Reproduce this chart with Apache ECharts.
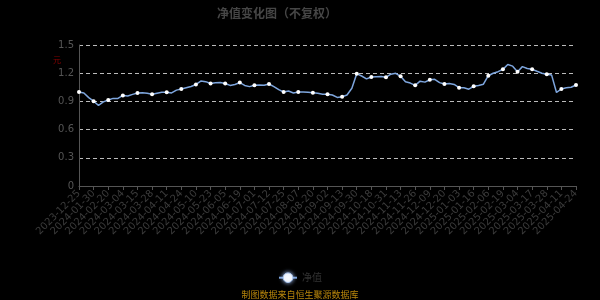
<!DOCTYPE html>
<html>
<head>
<meta charset="utf-8">
<script src="https://cdn.jsdelivr.net/npm/echarts@6/dist/echarts.min.js"></script>
<style>
html,body{margin:0;padding:0;background:#000;}
#main{width:600px;height:300px;}
</style>
</head>
<body>
<div id="main"></div>
<script>
var titleText = '净值变化图（不复权）';
var seriesName = '净值';
var unitName = '元';
var sourceText = '制图数据来自恒生聚源数据库';

var dates = [
'2023-12-25','2024-01-05','2024-01-18',
'2024-01-30','2024-02-05','2024-02-08',
'2024-02-20','2024-02-23','2024-02-28',
'2024-03-04','2024-03-07','2024-03-12',
'2024-03-15','2024-03-20','2024-03-25',
'2024-03-28','2024-04-02','2024-04-08',
'2024-04-11','2024-04-16','2024-04-19',
'2024-04-24','2024-04-29','2024-05-07',
'2024-05-10','2024-05-15','2024-05-20',
'2024-05-23','2024-05-28','2024-05-31',
'2024-06-05','2024-06-11','2024-06-14',
'2024-06-19','2024-06-24','2024-06-27',
'2024-07-01','2024-07-04','2024-07-09',
'2024-07-12','2024-07-17','2024-07-22',
'2024-07-25','2024-07-30','2024-08-02',
'2024-08-07','2024-08-12','2024-08-15',
'2024-08-20','2024-08-23','2024-08-28',
'2024-09-02','2024-09-05','2024-09-10',
'2024-09-13','2024-09-19','2024-09-25',
'2024-09-30','2024-10-10','2024-10-15',
'2024-10-18','2024-10-23','2024-10-28',
'2024-10-31','2024-11-05','2024-11-08',
'2024-11-13','2024-11-18','2024-11-21',
'2024-11-26','2024-11-29','2024-12-04',
'2024-12-09','2024-12-12','2024-12-17',
'2024-12-20','2024-12-25','2024-12-30',
'2025-01-03','2025-01-08','2025-01-13',
'2025-01-16','2025-01-21','2025-01-24',
'2025-02-06','2025-02-11','2025-02-14',
'2025-02-19','2025-02-24','2025-02-27',
'2025-03-04','2025-03-07','2025-03-12',
'2025-03-17','2025-03-20','2025-03-25',
'2025-03-28','2025-04-02','2025-04-08',
'2025-04-11','2025-04-16','2025-04-21',
'2025-04-24'
];

var navValues = [
1.000,0.990,0.940,
0.902,0.858,0.895,
0.915,0.932,0.932,
0.963,0.957,0.975,
0.990,0.993,0.986,
0.975,0.986,0.997,
0.997,0.990,1.020,
1.032,1.045,1.058,
1.080,1.116,1.110,
1.090,1.098,1.100,
1.090,1.070,1.080,
1.100,1.070,1.057,
1.071,1.075,1.071,
1.085,1.057,1.025,
1.000,1.010,0.990,
1.000,1.000,0.998,
0.993,0.986,0.975,
0.977,0.968,0.942,
0.950,0.968,1.040,
1.195,1.170,1.140,
1.160,1.163,1.165,
1.156,1.190,1.199,
1.167,1.110,1.095,
1.071,1.115,1.105,
1.130,1.135,1.100,
1.085,1.090,1.080,
1.046,1.045,1.030,
1.060,1.070,1.083,
1.173,1.199,1.216,
1.241,1.292,1.275,
1.216,1.270,1.250,
1.241,1.220,1.200,
1.190,1.180,0.995,
1.032,1.045,1.050,
1.074
];

var yTicks = [0, 0.3, 0.6, 0.9, 1.2, 1.5];

var chart = echarts.init(document.getElementById('main'), null, {renderer:'canvas'});
chart.setOption({
  backgroundColor: '#000',
  animation: false,
  title: {
    text: titleText,
    left: 212,
    top: 2,
    textStyle: {color: '#464646', fontSize: 12, fontWeight: 'bold', fontFamily: 'Noto Sans CJK SC'}
  },
  legend: {
    bottom: 12,
    left: 'center',
    itemWidth: 18,
    itemHeight: 12,
    itemGap: 10,
    textStyle: {color: '#333', fontSize: 10, fontFamily: 'Noto Sans CJK SC'},
    itemStyle: {color: '#fff', borderColor: '#aac4ec', borderWidth: 1, shadowColor: '#9bb9ee', shadowBlur: 4},
    data: [seriesName]
  },
  graphic: [
    {type:'text', left: 53, top: 56, style:{text: unitName, fill:'#8b0000', fontSize: 8, fontFamily:'Noto Sans CJK SC'}},
    {type:'text', left: 'center', top: 290, style:{text: sourceText, fill:'#b8860b', fontSize: 9, fontFamily:'Noto Sans CJK SC'}}
  ],
  grid: {left: 79, right: 24, top: 45, bottom: 114, containLabel: false},
  xAxis: {
    type: 'category',
    data: dates,
    boundaryGap: false,
    axisLine: {lineStyle: {color: '#555'}},
    axisTick: {show: true, interval: 2, length: 4, lineStyle:{color:'#555'}},
    axisLabel: {interval: 2, rotate: 45, color: '#3c3c3c', fontSize: 10, fontFamily: 'DejaVu Sans', margin: 6},
    splitLine: {show: false}
  },
  yAxis: {
    type: 'value',
    min: 0,
    max: 1.5,
    interval: 0.3,
    axisLine: {show: true, lineStyle: {color: '#555'}},
    axisTick: {show: false},
    axisLabel: {color: '#555', fontSize: 10, fontFamily: 'DejaVu Sans', margin: 5,
      formatter: function(v){ var r = yTicks.filter(function(t){return Math.abs(t-v)<1e-6;}); return r.length ? String(r[0]) : ''; }},
    splitLine: {show: true, lineStyle: {color: '#bbb', type: [4, 3], width: 1}}
  },
  series: [{
    name: seriesName,
    type: 'line',
    data: navValues,
    showAllSymbol: false,
    symbol: 'circle',
    symbolSize: 4,
    itemStyle: {color: '#ffffff'},
    lineStyle: {color: '#7ea6de', width: 1.5},
    smooth: false
  }]
});
</script>
</body>
</html>
